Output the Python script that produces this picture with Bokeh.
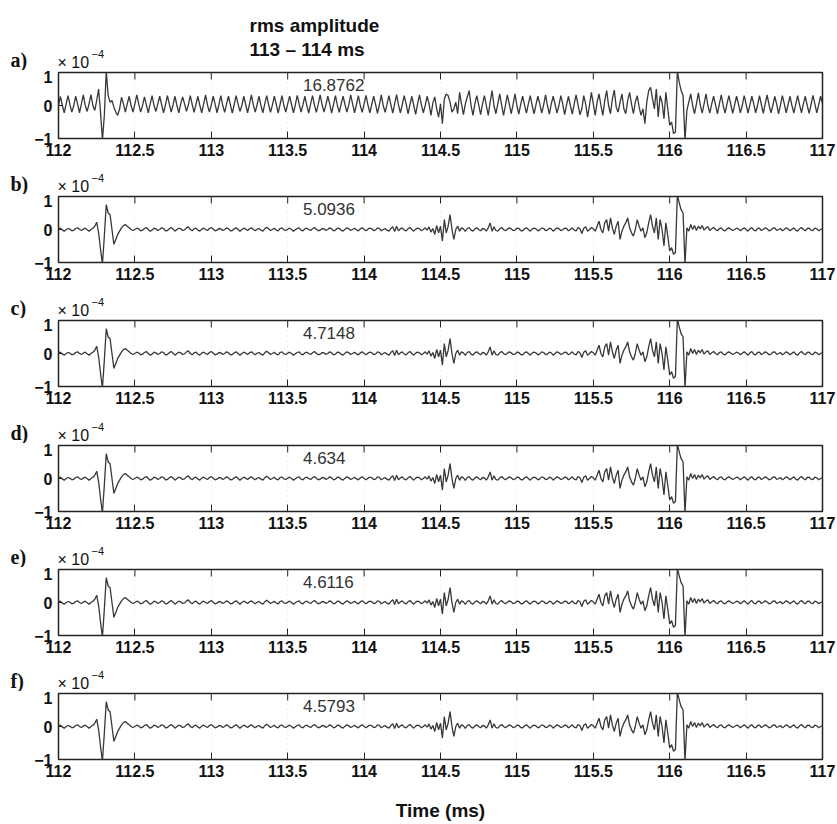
import numpy as np
from bokeh.plotting import figure
from bokeh.layouts import column
from bokeh.models import Label, FixedTicker, Range1d
from bokeh.core.properties import value
from bokeh.embed import file_html
from bokeh.resources import INLINE

# ---------------- data ----------------
T_START = 112.0      # ms, first sample
T_STEP = 0.0125      # ms, sample spacing of the traces below

# trace a): raw record with the strong periodic interference (x 1e-4)
trace_a = [
    0.0, 0.28, 0.0, -0.22, 0.05, 0.3, 0.02, -0.2, 0.0, 0.28, 0.05, -0.22, 0.05, 0.32, 0.0, -0.18, 0.05, 0.33, 0.0, -0.15,
    0.15, 0.5, -0.2, -1.05, -0.3, 1.05, 0.3, 0.1, 0.15, -0.05, -0.2, -0.3, -0.1, 0.25, 0.05, -0.2, 0.05, 0.28, 0.0, -0.2,
    0.05, 0.32, 0.05, -0.2, 0.0, 0.26, 0.02, -0.22, 0.05, 0.3, 0.0, -0.18, 0.05, 0.28, 0.03, -0.22, 0.02, 0.3, 0.05, -0.2,
    0.03, 0.28, 0.0, -0.22, 0.05, 0.26, 0.05, -0.18, 0.02, 0.3, 0.03, -0.21, 0.04, 0.28, 0.0, -0.22, 0.05, 0.32, 0.02, -0.2,
    0.02, 0.28, 0.04, -0.22, 0.03, 0.3, 0.0, -0.21, 0.05, 0.28, 0.02, -0.23, 0.03, 0.3, 0.05, -0.18, 0.0, 0.28, 0.03, -0.22,
    0.04, 0.32, 0.02, -0.2, 0.03, 0.28, 0.0, -0.22, 0.05, 0.3, 0.03, -0.21, 0.02, 0.28, 0.04, -0.23, 0.03, 0.3, 0.0, -0.2,
    0.05, 0.28, 0.03, -0.22, 0.02, 0.31, 0.04, -0.2, 0.03, 0.28, 0.0, -0.23, 0.05, 0.3, 0.02, -0.21, 0.04, 0.32, 0.03, -0.2,
    0.02, 0.28, 0.05, -0.23, 0.03, 0.3, 0.0, -0.21, 0.05, 0.28, 0.03, -0.2, 0.02, 0.32, 0.04, -0.22, 0.03, 0.3, 0.0, -0.21,
    0.05, 0.31, 0.02, -0.22, 0.03, 0.28, 0.04, -0.24, 0.02, 0.32, 0.0, -0.21, 0.04, 0.3, 0.03, -0.23, 0.05, 0.33, 0.02, -0.22,
    0.03, 0.3, 0.05, -0.25, 0.02, 0.28, 0.0, -0.27, 0.05, 0.32, 0.02, -0.22, 0.0, 0.28, 0.05, -0.3, 0.08, 0.26, -0.1, -0.35,
    0.05, -0.55, 0.2, 0.35, 0.3, 0.1, -0.2, -0.1, 0.1, -0.25, 0.4, 0.05, -0.28, 0.05, 0.25, 0.45, 0.0, -0.3, 0.05, 0.3,
    0.02, -0.28, 0.05, 0.3, 0.0, -0.3, 0.1, 0.45, 0.0, -0.25, 0.05, 0.35, 0.02, -0.3, 0.0, 0.32, 0.05, -0.25, 0.03, 0.35,
    0.0, -0.26, 0.04, 0.28, 0.02, -0.23, 0.05, 0.3, 0.0, -0.25, 0.03, 0.28, 0.05, -0.23, 0.02, 0.32, 0.0, -0.26, 0.05, 0.28,
    0.03, -0.23, 0.0, 0.3, 0.05, -0.28, 0.02, 0.28, 0.0, -0.26, 0.05, 0.32, 0.02, -0.28, -0.1, 0.3, 0.05, -0.35, 0.0, 0.4,
    0.05, -0.3, 0.1, 0.35, 0.0, -0.3, 0.15, 0.45, 0.0, -0.25, 0.2, 0.47, -0.05, -0.2, 0.1, 0.35, -0.1, -0.25, 0.15, 0.4,
    0.05, -0.25, 0.1, 0.3, -0.05, -0.3, -0.1, -0.55, 0.1, 0.45, 0.55, 0.2, -0.1, 0.5, -0.35, 0.3, 0.1, -0.4, 0.4, -0.1,
    -0.6, -0.5, -0.85, -0.8, 1.05, 0.7, 0.45, 0.3, -1.05, -0.15, 0.1, 0.35, 0.0, -0.25, 0.05, 0.38, 0.02, -0.23, 0.05, 0.35,
    0.0, -0.23, 0.05, 0.28, 0.02, -0.25, 0.04, 0.32, 0.0, -0.23, 0.05, 0.3, 0.03, -0.24, 0.02, 0.28, 0.05, -0.22, 0.0, 0.3,
    0.04, -0.23, 0.02, 0.28, 0.05, -0.22, 0.0, 0.3, 0.03, -0.24, 0.05, 0.32, 0.02, -0.22, 0.0, 0.28, 0.04, -0.25, 0.02, 0.3,
    0.05, -0.22, 0.03, 0.28, 0.0, -0.23, 0.04, 0.3, 0.02, -0.22, 0.05, 0.28, 0.0, -0.24, 0.03, 0.31, 0.05, -0.22, 0.02, 0.28,
    0.05,
]

# traces b) - f): filtered records (visually identical at this resolution) (x 1e-4)
trace_bf = [
    0.02, 0.04, -0.02, -0.05, 0.0, 0.03, 0.01, -0.04, -0.02, 0.03, 0.05, 0.0, -0.03, 0.01, 0.04, -0.01, -0.05, 0.0, 0.04, 0.1,
    0.22, -0.1, -0.6, -1.05, -0.2, 0.75, 0.5, 0.45, 0.0, -0.45, -0.3, -0.15, -0.05, 0.05, 0.12, 0.15, 0.1, 0.05, 0.0, -0.03,
    0.0, 0.04, 0.02, -0.04, -0.02, 0.03, 0.06, 0.0, -0.05, -0.02, 0.04, 0.02, -0.03, 0.0, 0.05, 0.03, -0.04, -0.03, 0.02, 0.06,
    0.01, -0.05, 0.0, 0.04, 0.02, -0.03, -0.01, 0.05, 0.08, 0.0, -0.04, 0.02, 0.04, -0.02, -0.05, 0.01, 0.04, 0.0, -0.03, 0.03,
    0.06, 0.01, -0.04, -0.02, 0.03, 0.02, -0.03, 0.0, 0.05, 0.02, -0.04, -0.03, 0.02, 0.05, 0.0, -0.05, 0.0, 0.04, 0.01, -0.03,
    0.02, 0.05, 0.0, -0.04, 0.01, 0.03, -0.02, -0.05, 0.02, 0.07, 0.02, -0.03, 0.0, 0.04, -0.02, -0.04, 0.03, 0.05, -0.01, -0.03,
    0.01, 0.04, 0.0, -0.05, -0.01, 0.03, 0.05, -0.02, -0.04, 0.02, 0.04, 0.0, -0.03, 0.02, 0.06, 0.01, -0.04, -0.02, 0.03, 0.02,
    -0.03, 0.0, 0.05, 0.02, -0.04, -0.02, 0.04, 0.03, -0.02, -0.05, 0.01, 0.05, 0.02, -0.03, 0.0, 0.04, -0.01, -0.04, 0.02, 0.05,
    0.0, -0.04, 0.01, 0.04, 0.02, -0.03, -0.02, 0.05, 0.03, -0.04, 0.0, 0.03, -0.02, -0.05, 0.03, 0.08, -0.06, 0.1, -0.04, 0.02,
    0.05, -0.02, -0.04, 0.02, 0.06, 0.0, -0.05, 0.01, 0.04, 0.02, -0.04, 0.0, 0.05, -0.02, 0.08, -0.08, 0.03, -0.15, 0.12, -0.1,
    0.1, -0.35, 0.3, -0.1, 0.1, 0.45, 0.0, -0.3, 0.0, 0.1, -0.05, 0.05, 0.02, -0.06, 0.03, 0.06, -0.02, -0.05, 0.02, 0.05,
    0.0, -0.04, 0.03, 0.02, -0.05, 0.05, 0.2, -0.05, 0.08, -0.03, -0.05, 0.02, 0.06, 0.0, -0.04, 0.01, 0.05, 0.02, -0.03, -0.02,
    0.04, 0.03, -0.03, -0.04, 0.02, 0.05, 0.0, -0.05, 0.01, 0.04, 0.02, -0.04, -0.01, 0.05, 0.03, -0.03, -0.02, 0.04, 0.02, -0.05,
    0.0, 0.05, 0.02, -0.03, -0.01, 0.04, 0.03, -0.04, 0.0, 0.05, -0.02, -0.04, 0.06, 0.02, -0.12, 0.04, 0.08, -0.05, 0.0, 0.06,
    0.02, -0.05, 0.1, 0.25, 0.0, -0.1, 0.2, 0.3, -0.05, 0.35, 0.05, -0.15, 0.1, 0.25, -0.3, -0.05, 0.1, 0.2, 0.35, 0.05,
    -0.1, -0.2, 0.0, 0.3, 0.1, -0.05, 0.05, -0.25, -0.1, 0.2, 0.45, 0.1, -0.1, 0.35, -0.3, 0.3, 0.0, -0.5, 0.2, -0.2,
    -0.65, -0.55, -0.75, -0.7, 1.05, 0.8, 0.6, 0.5, -1.05, 0.05, -0.05, 0.15, 0.0, 0.12, -0.03, 0.1, 0.02, 0.12, -0.02, 0.05,
    0.08, -0.03, 0.02, 0.06, 0.0, -0.04, 0.03, 0.05, -0.02, -0.04, 0.02, 0.05, 0.01, -0.03, 0.0, 0.04, 0.02, -0.04, 0.01, 0.05,
    0.0, -0.05, 0.02, 0.06, -0.02, -0.04, 0.03, 0.04, -0.03, 0.0, 0.05, 0.02, -0.04, -0.02, 0.04, 0.05, -0.03, 0.0, 0.03, -0.04,
    0.0, 0.05, 0.02, -0.04, 0.01, 0.05, -0.02, -0.05, 0.02, 0.06, 0.0, -0.04, 0.03, 0.04, -0.02, -0.03, 0.04, 0.02, -0.04, 0.0,
    0.03,
]

panel_traces = [trace_a, trace_bf, trace_bf, trace_bf, trace_bf, trace_bf]
panel_labels = ["a)", "b)", "c)", "d)", "e)", "f)"]
rms_values = ["16.8762", "5.0936", "4.7148", "4.634", "4.6116", "4.5793"]
title_lines = ["rms amplitude", "113 \u2013 114 ms"]
x_ticks = [112.0, 112.5, 113.0, 113.5, 114.0, 114.5, 115.0, 115.5, 116.0, 116.5, 117.0]
x_tick_labels = ["112", "112.5", "113", "113.5", "114", "114.5", "115", "115.5", "116", "116.5", "117"]
y_ticks = [-1.0, 0.0, 1.0]
y_tick_labels = ["\u22121", "0", "1"]
scale_text = "\u00d7 10"
scale_exp = "\u22124"
x_axis_title = "Time (ms)"

# ---------------- layout / style ----------------
W = 837
LEFT, RIGHT = 58, 15
FRAME_H = 66
TOP_PAD = 2
header_heights = [70, 31, 31, 32, 31, 31]
bottoms = [25, 25, 25, 25, 25, 65]
SANS = "Liberation Sans"
SERIF = "Liberation Serif"
TEXT_COLOR = "#111111"
TRACE_COLOR = "#383838"
FRAME_COLOR = "#222222"
TOP_TICK_LEN = 7.0 / (FRAME_H / 2.0)   # 7 px expressed in data units


def header(k):
    """Strip above a panel holding its letter, the x10^-4 note (and the title)."""
    H = header_heights[k]
    h = figure(width=W, height=H, x_range=Range1d(0, W), y_range=Range1d(0, H),
               output_backend="svg", toolbar_location=None,
               x_axis_location=None, y_axis_location=None, frame_align=False,
               min_border_left=0, min_border_right=0, min_border_top=0, min_border_bottom=0)
    h.grid.visible = False
    h.outline_line_color = None
    base = TOP_PAD  # frame top of the panel lies TOP_PAD px below the strip bottom
    h.text(x=[10], y=[13 - base], text=[panel_labels[k]], text_font=value(SERIF),
           text_font_style="bold", text_font_size="20px", text_color=TEXT_COLOR,
           text_baseline="alphabetic", text_align="left")
    h.text(x=[57], y=[10 - base], text=[scale_text], text_font=value(SANS),
           text_font_size="16px", text_color=TEXT_COLOR,
           text_baseline="alphabetic", text_align="left")
    h.text(x=[91], y=[19 - base], text=[scale_exp], text_font=value(SANS),
           text_font_size="11px", text_color=TEXT_COLOR,
           text_baseline="alphabetic", text_align="left")
    if k == 0:
        h.text(x=[249, 249], y=[47 - base, 23 - base], text=title_lines, text_font=value(SANS),
               text_font_style="bold", text_font_size="19px", text_color=TEXT_COLOR,
               text_baseline="alphabetic", text_align="left")
    return h


def panel(k):
    y = np.array(panel_traces[k], dtype=float)
    t = T_START + T_STEP * np.arange(len(y))
    h = TOP_PAD + FRAME_H + bottoms[k]
    p = figure(width=W, height=h, x_range=Range1d(112, 117), y_range=Range1d(-1, 1),
               output_backend="svg", toolbar_location=None, frame_align=False,
               min_border_left=LEFT, min_border_right=RIGHT,
               min_border_top=TOP_PAD, min_border_bottom=bottoms[k])
    p.outline_line_color = FRAME_COLOR
    p.outline_line_width = 1.5

    p.xgrid.ticker = FixedTicker(ticks=x_ticks)
    p.xgrid.grid_line_color = "#c8c8c8"
    p.xgrid.grid_line_dash = "1 4"
    p.xgrid.grid_line_alpha = 0.6
    p.ygrid.grid_line_color = None

    p.line(t, y, line_color=TRACE_COLOR, line_width=1.3)

    # tick marks on the top edge of the box
    p.segment(x0=x_ticks, y0=[1.0] * len(x_ticks), x1=x_ticks,
              y1=[1.0 - TOP_TICK_LEN] * len(x_ticks), line_color=FRAME_COLOR, line_width=1)

    xa = p.xaxis[0]
    xa.ticker = FixedTicker(ticks=x_ticks)
    xa.major_label_overrides = {tk: lb for tk, lb in zip(x_ticks, x_tick_labels)}
    xa.major_tick_in = 7
    xa.major_tick_out = 0
    xa.minor_tick_in = 0
    xa.minor_tick_out = 0
    xa.axis_line_color = None
    xa.major_tick_line_color = FRAME_COLOR
    xa.major_label_standoff = 5
    xa.major_label_text_font = SANS
    xa.major_label_text_font_style = "bold"
    xa.major_label_text_font_size = "16px"
    xa.major_label_text_color = TEXT_COLOR

    ya = p.yaxis[0]
    ya.ticker = FixedTicker(ticks=y_ticks)
    ya.major_label_overrides = {tk: lb for tk, lb in zip(y_ticks, y_tick_labels)}
    ya.major_tick_in = 4
    ya.major_tick_out = 0
    ya.minor_tick_in = 0
    ya.minor_tick_out = 0
    ya.axis_line_color = None
    ya.major_tick_line_color = FRAME_COLOR
    ya.major_label_standoff = 6
    ya.major_label_text_font = SANS
    ya.major_label_text_font_style = "bold"
    ya.major_label_text_font_size = "16px"
    ya.major_label_text_color = TEXT_COLOR

    p.add_layout(Label(x=113.6, y=1, y_offset=-12, text=rms_values[k],
                       text_font=SANS, text_font_size="17px", text_color="#333333",
                       text_baseline="middle", text_align="left"))

    if k == 5:
        xa.axis_label = x_axis_title
        xa.axis_label_text_font = SANS
        xa.axis_label_text_font_style = "bold"
        xa.axis_label_text_font_size = "19px"
        xa.axis_label_text_color = TEXT_COLOR
        xa.axis_label_standoff = 20
    return p


children = []
for k in range(6):
    children.append(header(k))
    children.append(panel(k))

layout = column(*children, spacing=0)
open("out.html", "w").write(file_html(layout, INLINE))
